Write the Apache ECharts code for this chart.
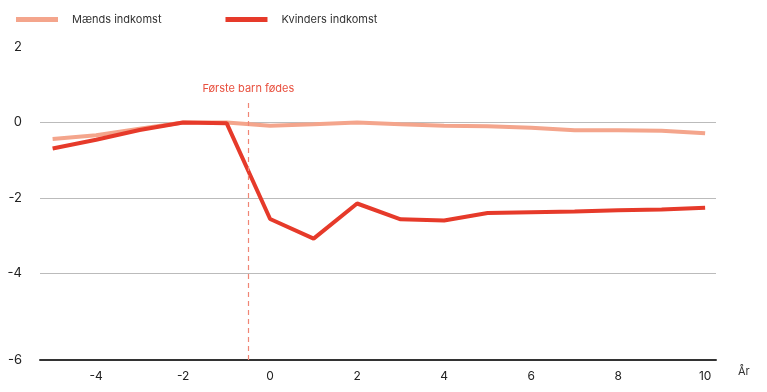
<!DOCTYPE html>
<html><head><meta charset="utf-8">
<script src="https://cdn.jsdelivr.net/npm/echarts@6/dist/echarts.min.js"></script>
<style>html,body{margin:0;padding:0;background:#fff}#c{width:767px;height:392px}</style>
</head><body><div id="c"></div>
<script>
const years = [-5,-4,-3,-2,-1,0,1,2,3,4,5,6,7,8,9,10];
const men   = [-0.44,-0.34,-0.17,0.0,0.0,-0.09,-0.05,0.0,-0.05,-0.09,-0.1,-0.14,-0.21,-0.21,-0.22,-0.29];
const women = [-0.69,-0.46,-0.2,0.0,-0.02,-2.56,-3.08,-2.15,-2.57,-2.6,-2.4,-2.38,-2.36,-2.33,-2.31,-2.26];
const xTicks = [-4,-2,0,2,4,6,8,10];
const yTicks = [-6.3,-4,-2,0,2];
const birthYear = -0.5;
const font = 'Inter, Roboto, sans-serif';
const chart = echarts.init(document.getElementById('c'));
chart.setOption({
  animation:false,
  textStyle:{fontFamily:font},
  legend:{left:11,top:9,itemWidth:42,itemHeight:5,itemGap:64,icon:'rect',
    textStyle:{fontSize:11,color:'#333',fontFamily:font,padding:[0,0,0,9]},
    data:['Mænds indkomst','Kvinders indkomst']},
  grid:{left:40,right:51,top:47,bottom:32},
  xAxis:{type:'value',min:-5.29,max:10.25,
    axisLine:{show:true,onZero:false,lineStyle:{color:'#333',width:2}},
    axisTick:{show:false},splitLine:{show:false},
    axisLabel:{customValues:xTicks,color:'#222',fontSize:12,margin:10},
    name:'År',nameLocation:'end',nameGap:22,
    nameTextStyle:{color:'#333',fontSize:11,verticalAlign:'top',padding:[6,0,0,0]}},
  yAxis:{type:'value',min:-6.3,max:2,
    axisLine:{show:false},
    axisTick:{show:false,customValues:[-4,-2,0]},
    splitLine:{show:true,lineStyle:{color:'#bbb',width:1}},
    axisLabel:{customValues:yTicks,color:'#222',fontSize:13,margin:18,
      formatter:v=>v<-6?'-6':String(v)}},
  series:[
    {name:'Mænds indkomst',type:'line',data:years.map((x,i)=>[x,men[i]]),
      showSymbol:false,lineStyle:{color:'#f4a58c',width:4},itemStyle:{color:'#f4a58c'},z:2},
    {name:'Kvinders indkomst',type:'line',data:years.map((x,i)=>[x,women[i]]),
      showSymbol:false,lineStyle:{color:'#e63a2a',width:4},itemStyle:{color:'#e63a2a'},z:3,
      markLine:{silent:true,symbol:'none',
        lineStyle:{color:'#f08575',type:[5,4],width:1.2},
        label:{show:true,position:'end',formatter:'Første barn fødes',color:'#e8503f',fontSize:11,distance:6,fontFamily:font},
        data:[[{coord:[birthYear,-6.3]},{coord:[birthYear,0.6]}]]}}
  ]
});
</script></body></html>
